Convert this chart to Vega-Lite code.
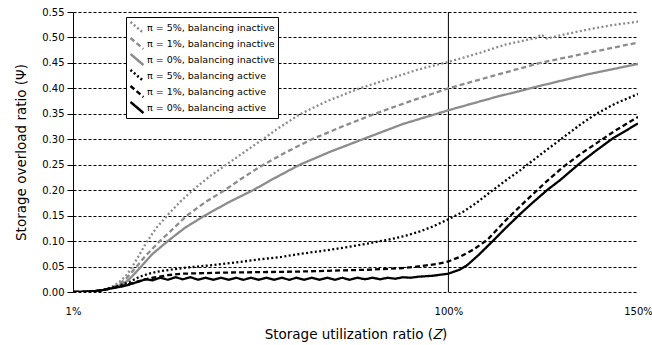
{
  "$schema": "https://vega.github.io/schema/vega-lite/v6.json",
  "width": 565,
  "height": 280,
  "autosize": "none",
  "padding": {"left": 73, "top": 12, "right": 14, "bottom": 53},
  "background": "white",
  "config": {
    "font": "DejaVu Sans",
    "view": {"stroke": null},
    "axis": {"labelFont": "DejaVu Sans", "titleFont": "DejaVu Sans", "labelColor": "#000", "titleColor": "#000", "titleFontWeight": "normal", "titleFontSize": 13.5, "labelFontSize": 10}
  },
  "datasets": {
    "curves": [
      {"series": "π = 5%, balancing inactive", "Z": 1, "Psi": 0},
      {"series": "π = 5%, balancing inactive", "Z": 3, "Psi": 0},
      {"series": "π = 5%, balancing inactive", "Z": 5, "Psi": 0.001},
      {"series": "π = 5%, balancing inactive", "Z": 7, "Psi": 0.002},
      {"series": "π = 5%, balancing inactive", "Z": 9, "Psi": 0.004},
      {"series": "π = 5%, balancing inactive", "Z": 11, "Psi": 0.009},
      {"series": "π = 5%, balancing inactive", "Z": 13, "Psi": 0.018},
      {"series": "π = 5%, balancing inactive", "Z": 15, "Psi": 0.032},
      {"series": "π = 5%, balancing inactive", "Z": 16.5, "Psi": 0.048},
      {"series": "π = 5%, balancing inactive", "Z": 18.5, "Psi": 0.073},
      {"series": "π = 5%, balancing inactive", "Z": 20.4, "Psi": 0.098},
      {"series": "π = 5%, balancing inactive", "Z": 23, "Psi": 0.126},
      {"series": "π = 5%, balancing inactive", "Z": 26.3, "Psi": 0.154},
      {"series": "π = 5%, balancing inactive", "Z": 29.5, "Psi": 0.179},
      {"series": "π = 5%, balancing inactive", "Z": 32.6, "Psi": 0.200},
      {"series": "π = 5%, balancing inactive", "Z": 37, "Psi": 0.227},
      {"series": "π = 5%, balancing inactive", "Z": 41.6, "Psi": 0.251},
      {"series": "π = 5%, balancing inactive", "Z": 46, "Psi": 0.274},
      {"series": "π = 5%, balancing inactive", "Z": 50.3, "Psi": 0.296},
      {"series": "π = 5%, balancing inactive", "Z": 55, "Psi": 0.321},
      {"series": "π = 5%, balancing inactive", "Z": 60.8, "Psi": 0.349},
      {"series": "π = 5%, balancing inactive", "Z": 68, "Psi": 0.375},
      {"series": "π = 5%, balancing inactive", "Z": 76.6, "Psi": 0.400},
      {"series": "π = 5%, balancing inactive", "Z": 85, "Psi": 0.420},
      {"series": "π = 5%, balancing inactive", "Z": 92, "Psi": 0.437},
      {"series": "π = 5%, balancing inactive", "Z": 100, "Psi": 0.452},
      {"series": "π = 5%, balancing inactive", "Z": 108, "Psi": 0.469},
      {"series": "π = 5%, balancing inactive", "Z": 115, "Psi": 0.486},
      {"series": "π = 5%, balancing inactive", "Z": 120, "Psi": 0.494},
      {"series": "π = 5%, balancing inactive", "Z": 123.2, "Psi": 0.499},
      {"series": "π = 5%, balancing inactive", "Z": 124.4, "Psi": 0.506},
      {"series": "π = 5%, balancing inactive", "Z": 126, "Psi": 0.498},
      {"series": "π = 5%, balancing inactive", "Z": 130, "Psi": 0.505},
      {"series": "π = 5%, balancing inactive", "Z": 137, "Psi": 0.516},
      {"series": "π = 5%, balancing inactive", "Z": 143, "Psi": 0.524},
      {"series": "π = 5%, balancing inactive", "Z": 150, "Psi": 0.531},

      {"series": "π = 1%, balancing inactive", "Z": 1, "Psi": 0},
      {"series": "π = 1%, balancing inactive", "Z": 3, "Psi": 0},
      {"series": "π = 1%, balancing inactive", "Z": 5, "Psi": 0.001},
      {"series": "π = 1%, balancing inactive", "Z": 7, "Psi": 0.002},
      {"series": "π = 1%, balancing inactive", "Z": 9, "Psi": 0.004},
      {"series": "π = 1%, balancing inactive", "Z": 11, "Psi": 0.008},
      {"series": "π = 1%, balancing inactive", "Z": 13, "Psi": 0.015},
      {"series": "π = 1%, balancing inactive", "Z": 15, "Psi": 0.026},
      {"series": "π = 1%, balancing inactive", "Z": 17.8, "Psi": 0.050},
      {"series": "π = 1%, balancing inactive", "Z": 20, "Psi": 0.070},
      {"series": "π = 1%, balancing inactive", "Z": 23.9, "Psi": 0.100},
      {"series": "π = 1%, balancing inactive", "Z": 27.5, "Psi": 0.125},
      {"series": "π = 1%, balancing inactive", "Z": 31, "Psi": 0.150},
      {"series": "π = 1%, balancing inactive", "Z": 36, "Psi": 0.177},
      {"series": "π = 1%, balancing inactive", "Z": 41, "Psi": 0.200},
      {"series": "π = 1%, balancing inactive", "Z": 45.5, "Psi": 0.223},
      {"series": "π = 1%, balancing inactive", "Z": 50.3, "Psi": 0.246},
      {"series": "π = 1%, balancing inactive", "Z": 57, "Psi": 0.274},
      {"series": "π = 1%, balancing inactive", "Z": 64, "Psi": 0.300},
      {"series": "π = 1%, balancing inactive", "Z": 72, "Psi": 0.325},
      {"series": "π = 1%, balancing inactive", "Z": 80.6, "Psi": 0.350},
      {"series": "π = 1%, balancing inactive", "Z": 90, "Psi": 0.375},
      {"series": "π = 1%, balancing inactive", "Z": 100, "Psi": 0.400},
      {"series": "π = 1%, balancing inactive", "Z": 112, "Psi": 0.425},
      {"series": "π = 1%, balancing inactive", "Z": 124.2, "Psi": 0.450},
      {"series": "π = 1%, balancing inactive", "Z": 137, "Psi": 0.470},
      {"series": "π = 1%, balancing inactive", "Z": 150, "Psi": 0.490},

      {"series": "π = 0%, balancing inactive", "Z": 1, "Psi": 0},
      {"series": "π = 0%, balancing inactive", "Z": 3, "Psi": 0},
      {"series": "π = 0%, balancing inactive", "Z": 5, "Psi": 0.001},
      {"series": "π = 0%, balancing inactive", "Z": 7, "Psi": 0.002},
      {"series": "π = 0%, balancing inactive", "Z": 9, "Psi": 0.004},
      {"series": "π = 0%, balancing inactive", "Z": 11, "Psi": 0.007},
      {"series": "π = 0%, balancing inactive", "Z": 13, "Psi": 0.012},
      {"series": "π = 0%, balancing inactive", "Z": 15, "Psi": 0.020},
      {"series": "π = 0%, balancing inactive", "Z": 16.5, "Psi": 0.030},
      {"series": "π = 0%, balancing inactive", "Z": 18.6, "Psi": 0.047},
      {"series": "π = 0%, balancing inactive", "Z": 22, "Psi": 0.075},
      {"series": "π = 0%, balancing inactive", "Z": 26, "Psi": 0.100},
      {"series": "π = 0%, balancing inactive", "Z": 30.5, "Psi": 0.126},
      {"series": "π = 0%, balancing inactive", "Z": 35.7, "Psi": 0.150},
      {"series": "π = 0%, balancing inactive", "Z": 42, "Psi": 0.176},
      {"series": "π = 0%, balancing inactive", "Z": 48.5, "Psi": 0.200},
      {"series": "π = 0%, balancing inactive", "Z": 53, "Psi": 0.219},
      {"series": "π = 0%, balancing inactive", "Z": 60.8, "Psi": 0.250},
      {"series": "π = 0%, balancing inactive", "Z": 69, "Psi": 0.276},
      {"series": "π = 0%, balancing inactive", "Z": 77.4, "Psi": 0.300},
      {"series": "π = 0%, balancing inactive", "Z": 88, "Psi": 0.330},
      {"series": "π = 0%, balancing inactive", "Z": 100, "Psi": 0.357},
      {"series": "π = 0%, balancing inactive", "Z": 112, "Psi": 0.382},
      {"series": "π = 0%, balancing inactive", "Z": 124.2, "Psi": 0.405},
      {"series": "π = 0%, balancing inactive", "Z": 137, "Psi": 0.428},
      {"series": "π = 0%, balancing inactive", "Z": 150, "Psi": 0.448},

      {"series": "π = 5%, balancing active", "Z": 1, "Psi": 0},
      {"series": "π = 5%, balancing active", "Z": 3, "Psi": 0},
      {"series": "π = 5%, balancing active", "Z": 5, "Psi": 0.001},
      {"series": "π = 5%, balancing active", "Z": 7, "Psi": 0.002},
      {"series": "π = 5%, balancing active", "Z": 9, "Psi": 0.004},
      {"series": "π = 5%, balancing active", "Z": 11, "Psi": 0.008},
      {"series": "π = 5%, balancing active", "Z": 13, "Psi": 0.012},
      {"series": "π = 5%, balancing active", "Z": 16, "Psi": 0.020},
      {"series": "π = 5%, balancing active", "Z": 18.6, "Psi": 0.030},
      {"series": "π = 5%, balancing active", "Z": 21, "Psi": 0.036},
      {"series": "π = 5%, balancing active", "Z": 24, "Psi": 0.041},
      {"series": "π = 5%, balancing active", "Z": 31, "Psi": 0.048},
      {"series": "π = 5%, balancing active", "Z": 38, "Psi": 0.053},
      {"series": "π = 5%, balancing active", "Z": 44, "Psi": 0.058},
      {"series": "π = 5%, balancing active", "Z": 50, "Psi": 0.064},
      {"series": "π = 5%, balancing active", "Z": 56, "Psi": 0.069},
      {"series": "π = 5%, balancing active", "Z": 61, "Psi": 0.075},
      {"series": "π = 5%, balancing active", "Z": 68, "Psi": 0.082},
      {"series": "π = 5%, balancing active", "Z": 74, "Psi": 0.089},
      {"series": "π = 5%, balancing active", "Z": 80, "Psi": 0.097},
      {"series": "π = 5%, balancing active", "Z": 85, "Psi": 0.104},
      {"series": "π = 5%, balancing active", "Z": 89, "Psi": 0.111},
      {"series": "π = 5%, balancing active", "Z": 92.5, "Psi": 0.119},
      {"series": "π = 5%, balancing active", "Z": 96, "Psi": 0.129},
      {"series": "π = 5%, balancing active", "Z": 100, "Psi": 0.143},
      {"series": "π = 5%, balancing active", "Z": 104, "Psi": 0.158},
      {"series": "π = 5%, balancing active", "Z": 107.4, "Psi": 0.175},
      {"series": "π = 5%, balancing active", "Z": 111.7, "Psi": 0.200},
      {"series": "π = 5%, balancing active", "Z": 115.3, "Psi": 0.220},
      {"series": "π = 5%, balancing active", "Z": 118.9, "Psi": 0.239},
      {"series": "π = 5%, balancing active", "Z": 125, "Psi": 0.274},
      {"series": "π = 5%, balancing active", "Z": 130, "Psi": 0.302},
      {"series": "π = 5%, balancing active", "Z": 135, "Psi": 0.330},
      {"series": "π = 5%, balancing active", "Z": 139, "Psi": 0.350},
      {"series": "π = 5%, balancing active", "Z": 144, "Psi": 0.370},
      {"series": "π = 5%, balancing active", "Z": 150, "Psi": 0.389},

      {"series": "π = 1%, balancing active", "Z": 1, "Psi": 0},
      {"series": "π = 1%, balancing active", "Z": 3, "Psi": 0},
      {"series": "π = 1%, balancing active", "Z": 5, "Psi": 0.001},
      {"series": "π = 1%, balancing active", "Z": 7, "Psi": 0.002},
      {"series": "π = 1%, balancing active", "Z": 9, "Psi": 0.004},
      {"series": "π = 1%, balancing active", "Z": 11, "Psi": 0.007},
      {"series": "π = 1%, balancing active", "Z": 14, "Psi": 0.012},
      {"series": "π = 1%, balancing active", "Z": 16, "Psi": 0.016},
      {"series": "π = 1%, balancing active", "Z": 18.6, "Psi": 0.022},
      {"series": "π = 1%, balancing active", "Z": 22, "Psi": 0.028},
      {"series": "π = 1%, balancing active", "Z": 26, "Psi": 0.033},
      {"series": "π = 1%, balancing active", "Z": 30, "Psi": 0.036},
      {"series": "π = 1%, balancing active", "Z": 40, "Psi": 0.038},
      {"series": "π = 1%, balancing active", "Z": 50, "Psi": 0.039},
      {"series": "π = 1%, balancing active", "Z": 60, "Psi": 0.040},
      {"series": "π = 1%, balancing active", "Z": 70, "Psi": 0.042},
      {"series": "π = 1%, balancing active", "Z": 80, "Psi": 0.044},
      {"series": "π = 1%, balancing active", "Z": 88, "Psi": 0.047},
      {"series": "π = 1%, balancing active", "Z": 93, "Psi": 0.051},
      {"series": "π = 1%, balancing active", "Z": 97, "Psi": 0.055},
      {"series": "π = 1%, balancing active", "Z": 100, "Psi": 0.060},
      {"series": "π = 1%, balancing active", "Z": 103, "Psi": 0.069},
      {"series": "π = 1%, balancing active", "Z": 106.5, "Psi": 0.083},
      {"series": "π = 1%, balancing active", "Z": 110.2, "Psi": 0.102},
      {"series": "π = 1%, balancing active", "Z": 113, "Psi": 0.124},
      {"series": "π = 1%, balancing active", "Z": 115.4, "Psi": 0.143},
      {"series": "π = 1%, balancing active", "Z": 120.7, "Psi": 0.181},
      {"series": "π = 1%, balancing active", "Z": 126, "Psi": 0.218},
      {"series": "π = 1%, balancing active", "Z": 130, "Psi": 0.244},
      {"series": "π = 1%, balancing active", "Z": 135, "Psi": 0.272},
      {"series": "π = 1%, balancing active", "Z": 139, "Psi": 0.292},
      {"series": "π = 1%, balancing active", "Z": 144, "Psi": 0.317},
      {"series": "π = 1%, balancing active", "Z": 150, "Psi": 0.344},

      {"series": "π = 0%, balancing active", "Z": 1, "Psi": 0},
      {"series": "π = 0%, balancing active", "Z": 3, "Psi": 0},
      {"series": "π = 0%, balancing active", "Z": 5, "Psi": 0.001},
      {"series": "π = 0%, balancing active", "Z": 7, "Psi": 0.002},
      {"series": "π = 0%, balancing active", "Z": 9, "Psi": 0.004},
      {"series": "π = 0%, balancing active", "Z": 11, "Psi": 0.007},
      {"series": "π = 0%, balancing active", "Z": 14, "Psi": 0.011},
      {"series": "π = 0%, balancing active", "Z": 16, "Psi": 0.015},
      {"series": "π = 0%, balancing active", "Z": 18.6, "Psi": 0.021},
      {"series": "π = 0%, balancing active", "Z": 20, "Psi": 0.025},
      {"series": "π = 0%, balancing active", "Z": 22, "Psi": 0.023},
      {"series": "π = 0%, balancing active", "Z": 24, "Psi": 0.028},
      {"series": "π = 0%, balancing active", "Z": 26, "Psi": 0.024},
      {"series": "π = 0%, balancing active", "Z": 28, "Psi": 0.029},
      {"series": "π = 0%, balancing active", "Z": 30, "Psi": 0.025},
      {"series": "π = 0%, balancing active", "Z": 32, "Psi": 0.029},
      {"series": "π = 0%, balancing active", "Z": 34, "Psi": 0.024},
      {"series": "π = 0%, balancing active", "Z": 36, "Psi": 0.028},
      {"series": "π = 0%, balancing active", "Z": 38, "Psi": 0.024},
      {"series": "π = 0%, balancing active", "Z": 40, "Psi": 0.028},
      {"series": "π = 0%, balancing active", "Z": 42, "Psi": 0.024},
      {"series": "π = 0%, balancing active", "Z": 44, "Psi": 0.028},
      {"series": "π = 0%, balancing active", "Z": 46, "Psi": 0.024},
      {"series": "π = 0%, balancing active", "Z": 48, "Psi": 0.028},
      {"series": "π = 0%, balancing active", "Z": 50, "Psi": 0.024},
      {"series": "π = 0%, balancing active", "Z": 52, "Psi": 0.028},
      {"series": "π = 0%, balancing active", "Z": 54, "Psi": 0.024},
      {"series": "π = 0%, balancing active", "Z": 56, "Psi": 0.028},
      {"series": "π = 0%, balancing active", "Z": 58, "Psi": 0.024},
      {"series": "π = 0%, balancing active", "Z": 60, "Psi": 0.028},
      {"series": "π = 0%, balancing active", "Z": 62, "Psi": 0.024},
      {"series": "π = 0%, balancing active", "Z": 64, "Psi": 0.028},
      {"series": "π = 0%, balancing active", "Z": 66, "Psi": 0.024},
      {"series": "π = 0%, balancing active", "Z": 68, "Psi": 0.028},
      {"series": "π = 0%, balancing active", "Z": 70, "Psi": 0.024},
      {"series": "π = 0%, balancing active", "Z": 72, "Psi": 0.028},
      {"series": "π = 0%, balancing active", "Z": 74, "Psi": 0.024},
      {"series": "π = 0%, balancing active", "Z": 76, "Psi": 0.028},
      {"series": "π = 0%, balancing active", "Z": 78, "Psi": 0.025},
      {"series": "π = 0%, balancing active", "Z": 80, "Psi": 0.028},
      {"series": "π = 0%, balancing active", "Z": 82, "Psi": 0.025},
      {"series": "π = 0%, balancing active", "Z": 84, "Psi": 0.028},
      {"series": "π = 0%, balancing active", "Z": 86, "Psi": 0.026},
      {"series": "π = 0%, balancing active", "Z": 88, "Psi": 0.029},
      {"series": "π = 0%, balancing active", "Z": 90, "Psi": 0.028},
      {"series": "π = 0%, balancing active", "Z": 92, "Psi": 0.030},
      {"series": "π = 0%, balancing active", "Z": 94, "Psi": 0.031},
      {"series": "π = 0%, balancing active", "Z": 96, "Psi": 0.032},
      {"series": "π = 0%, balancing active", "Z": 98, "Psi": 0.034},
      {"series": "π = 0%, balancing active", "Z": 100, "Psi": 0.036},
      {"series": "π = 0%, balancing active", "Z": 101.5, "Psi": 0.040},
      {"series": "π = 0%, balancing active", "Z": 103, "Psi": 0.044},
      {"series": "π = 0%, balancing active", "Z": 105, "Psi": 0.053},
      {"series": "π = 0%, balancing active", "Z": 108, "Psi": 0.073},
      {"series": "π = 0%, balancing active", "Z": 111.7, "Psi": 0.100},
      {"series": "π = 0%, balancing active", "Z": 115, "Psi": 0.125},
      {"series": "π = 0%, balancing active", "Z": 118.9, "Psi": 0.153},
      {"series": "π = 0%, balancing active", "Z": 122, "Psi": 0.174},
      {"series": "π = 0%, balancing active", "Z": 126, "Psi": 0.200},
      {"series": "π = 0%, balancing active", "Z": 129.5, "Psi": 0.220},
      {"series": "π = 0%, balancing active", "Z": 132, "Psi": 0.236},
      {"series": "π = 0%, balancing active", "Z": 135.5, "Psi": 0.258},
      {"series": "π = 0%, balancing active", "Z": 139, "Psi": 0.278},
      {"series": "π = 0%, balancing active", "Z": 143.4, "Psi": 0.302},
      {"series": "π = 0%, balancing active", "Z": 150, "Psi": 0.331}
    ],
    "marker": [{"Z": 100}]
  },
  "layer": [
    {
      "data": {"name": "marker"},
      "mark": {"type": "rule", "color": "#000", "strokeWidth": 1},
      "encoding": {
        "x": {"field": "Z", "type": "quantitative", "scale": {"domain": [1, 150], "nice": false, "zero": false}}
      }
    },
    {
      "data": {"name": "curves"},
      "mark": {"type": "line", "strokeWidth": 2.3, "clip": true},
      "encoding": {
        "x": {
          "field": "Z", "type": "quantitative",
          "scale": {"domain": [1, 150], "nice": false, "zero": false},
          "axis": {
            "title": "Storage utilization ratio (𝑍)",
            "values": [1, 100, 150],
            "labelExpr": "datum.value + '%'",
            "labelFlush": false, "labelOverlap": false, "labelBound": false,
            "domain": false, "ticks": false, "grid": false,
            "labelPadding": 14, "titlePadding": 11
          }
        },
        "y": {
          "field": "Psi", "type": "quantitative",
          "scale": {"domain": [0, 0.55], "nice": false},
          "axis": {
            "title": "Storage overload ratio (Ψ)",
            "values": [0, 0.05, 0.1, 0.15, 0.2, 0.25, 0.3, 0.35, 0.4, 0.45, 0.5, 0.55],
            "format": ".2f",
            "labelFlush": false,
            "domainColor": "#000", "tickColor": "#000", "tickSize": 6,
            "labelPadding": 3,
            "grid": true, "gridColor": "#000", "gridDash": [3, 2], "gridWidth": 1,
            "titlePadding": 13
          }
        },
        "color": {
          "field": "series", "type": "nominal",
          "scale": {
            "domain": ["π = 5%, balancing inactive", "π = 1%, balancing inactive", "π = 0%, balancing inactive", "π = 5%, balancing active", "π = 1%, balancing active", "π = 0%, balancing active"],
            "range": ["#8c8c8c", "#8c8c8c", "#8c8c8c", "#000000", "#000000", "#000000"]
          },
          "legend": {
            "title": null, "orient": "none", "legendX": 53, "legendY": 5,
            "strokeColor": "#000", "fillColor": "#fff", "padding": 3, "cornerRadius": 0,
            "labelFontSize": 9.5, "labelFont": "DejaVu Sans", "labelColor": "#000",
            "symbolType": "M-1,-0.85L1,0.85", "symbolSize": 169, "symbolStrokeWidth": 2.5,
            "clipHeight": 15, "rowPadding": 1, "labelOffset": 2
          }
        },
        "strokeDash": {
          "field": "series", "type": "nominal",
          "scale": {
            "domain": ["π = 5%, balancing inactive", "π = 1%, balancing inactive", "π = 0%, balancing inactive", "π = 5%, balancing active", "π = 1%, balancing active", "π = 0%, balancing active"],
            "range": [[2, 2.4], [5, 3], [1, 0], [2, 2.4], [5, 3], [1, 0]]
          }
        }
      }
    }
  ]
}
